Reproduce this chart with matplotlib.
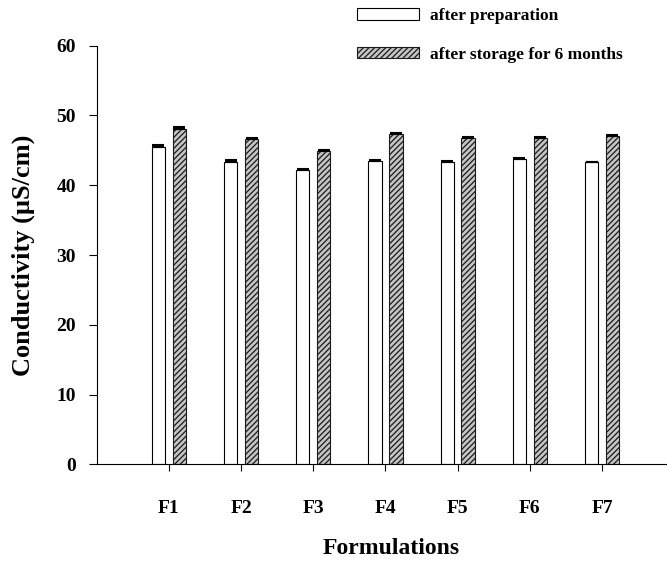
import matplotlib.pyplot as plt
import numpy as np

plt.rcParams['font.family'] = ['Liberation Serif', 'DejaVu Serif']
plt.rcParams['font.weight'] = 'bold'
plt.rcParams['hatch.linewidth'] = 0.9

# conductividad de las formulaciones (uS/cm)
formulaciones = ['F1', 'F2', 'F3', 'F4', 'F5', 'F6', 'F7']
preparacion = [45.5, 43.3, 42.2, 43.5, 43.4, 43.8, 43.3]
preparacion_err = [0.2, 0.3, 0.15, 0.1, 0.1, 0.1, 0.1]
almacenamiento = [48.0, 46.6, 44.9, 47.4, 46.8, 46.75, 47.1]
almacenamiento_err = [0.3, 0.1, 0.1, 0.1, 0.1, 0.1, 0.1]

fig = plt.figure(figsize=(6.67, 5.71), dpi=100)
ax = fig.add_axes([96.7 / 667, 1 - 464.3 / 571, (667 - 96.7) / 667, (464.3 - 45.7) / 571])

x = np.arange(1, len(formulaciones) + 1)
ancho = 0.185
cero = np.zeros(len(x))

ax.bar(x - 0.145, preparacion, ancho, color='white', edgecolor='black', linewidth=0.8,
       yerr=[cero, preparacion_err], capsize=4,
       error_kw=dict(ecolor='black', elinewidth=0.8, capthick=1.5),
       label='after preparation')
ax.bar(x + 0.145, almacenamiento, ancho, color='#c4c4c4', edgecolor='#1a1a1a', linewidth=0.8,
       hatch='//////', yerr=[cero, almacenamiento_err], capsize=4,
       error_kw=dict(ecolor='black', elinewidth=0.8, capthick=1.5),
       label='after storage for 6 months')

ax.set_xlim(0, 7.9)
ax.set_ylim(0, 60)
ax.set_yticks(np.arange(0, 61, 10))
ax.set_xticks(x)
ax.set_xticklabels(formulaciones)
ax.spines['top'].set_visible(False)
ax.spines['right'].set_visible(False)
ax.tick_params(axis='y', direction='out', length=6, width=0.8, pad=9, labelsize=14)
ax.tick_params(axis='x', direction='out', length=5, width=0.8, pad=21, labelsize=14)

ax.set_ylabel('Conductivity (\u00b5S/cm)', fontsize=19, fontweight='bold')
ax.yaxis.set_label_coords((23 - 96.7) / (667 - 96.7), 0.5)
ax.set_xlabel('Formulations', fontsize=17, fontweight='bold')
ax.xaxis.set_label_coords((391 - 96.7) / (667 - 96.7), -(548 - 464.3) / (464.3 - 45.7))
ax.xaxis.label.set_verticalalignment('center')
ax.yaxis.label.set_verticalalignment('center')

fig.legend(loc='upper left', bbox_to_anchor=(357 / 667, 1 - 8 / 571), frameon=False,
           fontsize=12.5, handlelength=3.6, handleheight=0.65, handletextpad=0.6,
           labelspacing=1.3, borderpad=0, borderaxespad=0)

plt.savefig('out.png', dpi=100)
